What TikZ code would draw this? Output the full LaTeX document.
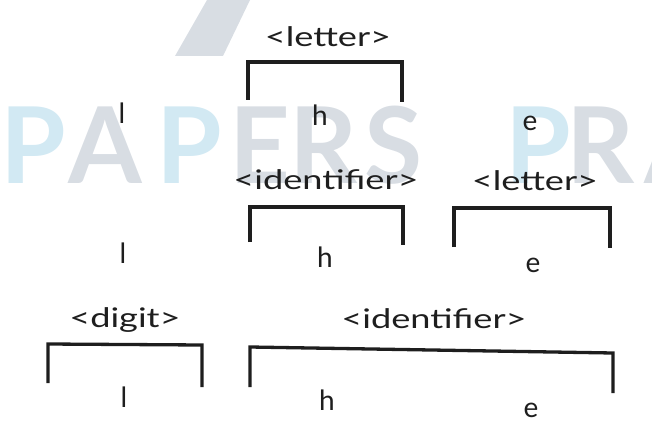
\documentclass[tikz,border=0pt]{standalone}
\usepackage{fontspec}
\usepackage{graphicx}
\setmainfont{Lato}
\definecolor{wmblue}{RGB}{210,233,243}
\definecolor{wmgray}{RGB}{216,221,227}
\definecolor{ink}{RGB}{30,30,30}
\newcommand{\wide}[1]{\scalebox{1.34}[1]{#1}}
\begin{document}
\begin{tikzpicture}[x=1pt,y=-1pt,
  lab/.style={font=\fontsize{27}{27}\selectfont, text=ink, inner sep=0pt, anchor=base},
  leaf/.style={font=\fontsize{28}{28}\selectfont, text=ink, inner sep=0pt, anchor=base},
  brk/.style={draw=ink, line width=3.3pt, line cap=butt, line join=miter},
  wmb/.style={font=\fontsize{106}{106}\selectfont\bfseries, text=wmblue, inner sep=0pt, anchor=base west},
  wmg/.style={font=\fontsize{106}{106}\selectfont\bfseries, text=wmgray, inner sep=0pt, anchor=base west}]
\useasboundingbox (0,0) rectangle (652,433);
% watermark
\fill[wmgray] (207,0) -- (250,0) -- (223,56) -- (175,56) -- cycle;
\node[wmb] (w1) at (0,183) {P};
\node[wmg] (w2) at (68,183) {A};
\node[wmb] (w3) at (156,183) {P};
\node[wmg] (w4) at (229,183) {E};
\node[wmg] (w5) at (289,183) {R};
\node[wmg] (w6) at (364,183) {S};
\node[wmb] (w7) at (505,183) {P};
\node[wmg] (w8) at (566,183) {R};
\node[wmg] (w9) at (644,183) {A};
% row 1
\node[lab] (r1lab) at (328,47) {\wide{<letter>}};
\node[leaf] (r1l) at (122,123) {l};
\node[leaf] (r1h) at (320,125) {h};
\node[leaf] (r1e) at (530,130) {e};
\coordinate (b1a) at (248,100); \coordinate (b1b) at (248,62);
\coordinate (b1c) at (402,62);  \coordinate (b1d) at (402,102);
\draw[brk] (b1a) -- (b1b) -- (b1c) -- (b1d);
% row 2
\node[lab] (r2id) at (326,189) {\wide{<identifier>}};
\node[lab] (r2let) at (535,190) {\wide{<letter>}};
\node[leaf] (r2l) at (123,263) {l};
\node[leaf] (r2h) at (325,267) {h};
\node[leaf] (r2e) at (533,272) {e};
\coordinate (b2a) at (250,242); \coordinate (b2b) at (250,207);
\coordinate (b2c) at (403,207); \coordinate (b2d) at (403,245);
\draw[brk] (b2a) -- (b2b) -- (b2c) -- (b2d);
\coordinate (b3a) at (454,247); \coordinate (b3b) at (454,208);
\coordinate (b3c) at (610,208); \coordinate (b3d) at (610,248);
\draw[brk] (b3a) -- (b3b) -- (b3c) -- (b3d);
% row 3
\node[lab] (r3dig) at (125,327) {\wide{<digit>}};
\node[lab] (r3id) at (434,328) {\wide{<identifier>}};
\node[leaf] (r3l) at (124,407) {l};
\node[leaf] (r3h) at (327,410) {h};
\node[leaf] (r3e) at (531,417) {e};
\coordinate (b4a) at (48,383); \coordinate (b4b) at (48,344);
\coordinate (b4c) at (202,345); \coordinate (b4d) at (202,387);
\draw[brk] (b4a) -- (b4b) -- (b4c) -- (b4d);
\coordinate (b5a) at (250,387); \coordinate (b5b) at (250,347);
\coordinate (b5c) at (613,353); \coordinate (b5d) at (613,393);
\draw[brk] (b5a) -- (b5b) -- (b5c) -- (b5d);
\end{tikzpicture}
\end{document}
